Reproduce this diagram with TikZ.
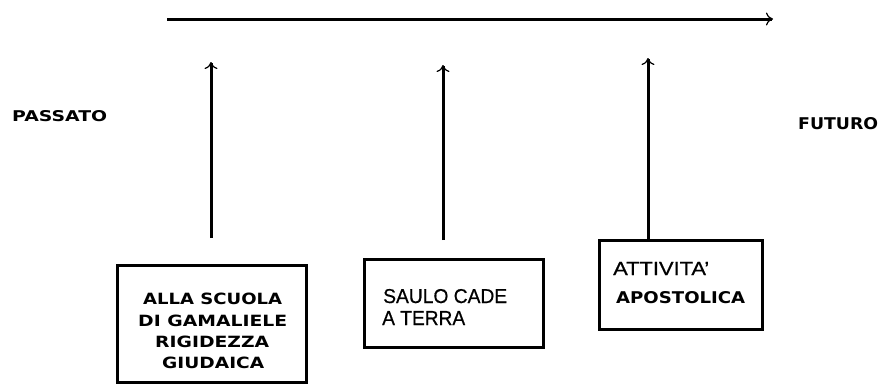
\documentclass[tikz,border=0pt]{standalone}
\usepackage{fontspec}
\usepackage{graphicx}
\setmainfont{Liberation Sans}[FakeBold=0.6]
\newfontfamily\verd{DejaVu Sans}
\usetikzlibrary{arrows.meta}
\newcommand\fitt[3]{\resizebox{#1pt}{#2pt}{#3}}
\tikzset{
  box/.style={draw, line width=3pt, inner sep=0pt, anchor=north west},
  conn/.style={line width=3pt, -{To[length=7pt,width=13pt,line width=1.2pt]}},
  lbl/.style={inner sep=0pt, anchor=base west, text=black},
}
\begin{document}
\begin{tikzpicture}[x=1pt,y=-1pt]
\useasboundingbox (0,0) rectangle (882,383);
\fill[white] (0,0) rectangle (882,383);
% timeline
\coordinate (t0) at (167,19);
\coordinate (t1) at (773,19);
\draw[conn] (t0) -- (t1);
% side labels
\node[lbl] (pass) at (12,121) {\fitt{95}{11}{\verd\bfseries PASSATO}};
\node[lbl] (fut) at (798,129) {\fitt{80}{12}{\verd\bfseries FUTURO}};
% boxes
\node[box, minimum width=189pt, minimum height=117pt] (b1) at (116,264) {};
\node[box, minimum width=179pt, minimum height=88pt] (b2) at (363,258) {};
\node[box, minimum width=163pt, minimum height=89pt] (b3) at (598,239) {};
% box texts
\node[lbl] (b1l1) at (143,304) {\fitt{139}{11.5}{\verd\bfseries ALLA SCUOLA}};
\node[lbl] (b1l2) at (138,326) {\fitt{149}{11.5}{\verd\bfseries DI GAMALIELE}};
\node[lbl] (b1l3) at (155,347) {\fitt{114}{11.5}{\verd\bfseries RIGIDEZZA}};
\node[lbl] (b1l4) at (162,368) {\fitt{102}{11.5}{\verd\bfseries GIUDAICA}};
\node[lbl] (b2l1) at (383,303) {\fitt{124}{14}{SAULO CADE}};
\node[lbl] (b2l2) at (382,325) {\fitt{83}{14}{A TERRA}};
\node[lbl] (b3l1) at (613,275) {\fitt{96}{13}{ATTIVITA’}};
\node[lbl] (b3l2) at (616,303) {\fitt{129}{12}{\verd\bfseries APOSTOLICA}};
% vertical arrows
\coordinate (a1s) at (211,238); \coordinate (a1e) at (211,62);
\coordinate (a2s) at (443,240); \coordinate (a2e) at (443,65);
\coordinate (a3e) at (648,58);
\draw[conn] (a1s) -- (a1e);
\draw[conn] (a2s) -- (a2e);
\draw[conn] (b3.north -| a3e) -- (a3e);
\end{tikzpicture}
\end{document}
